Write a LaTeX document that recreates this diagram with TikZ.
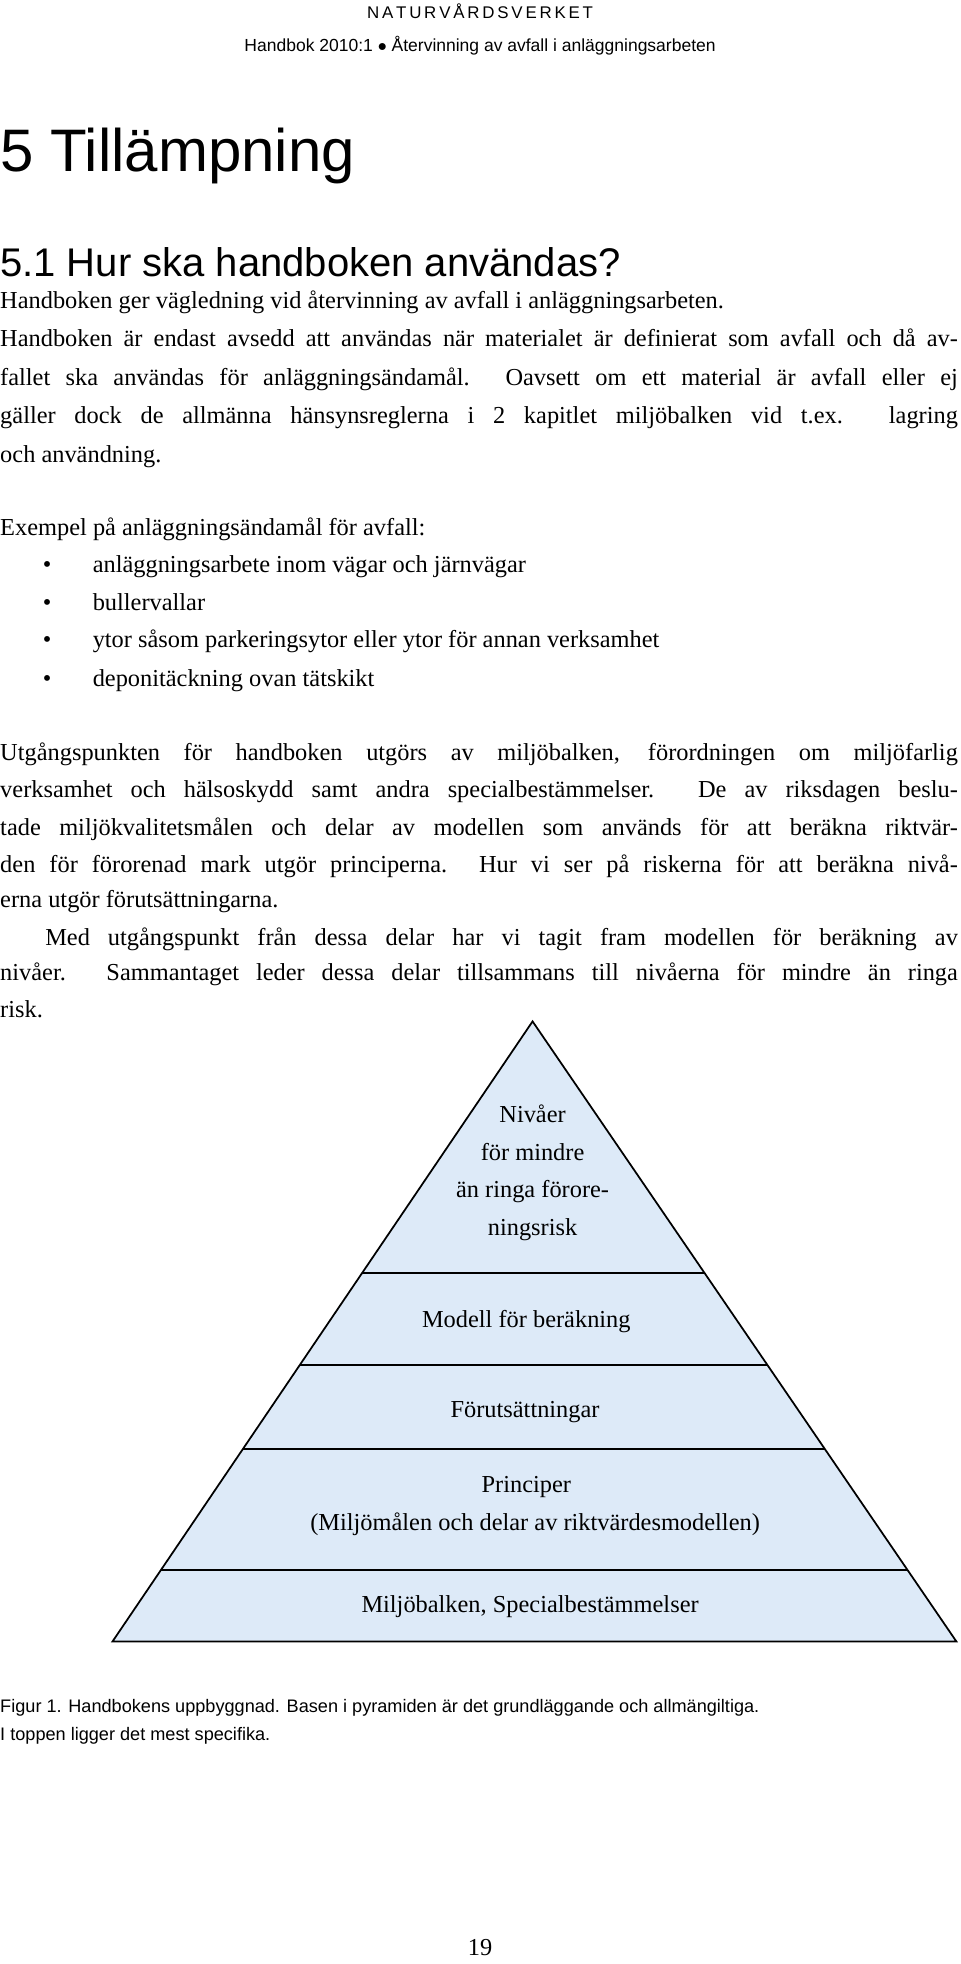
\documentclass[tikz,border=0pt]{standalone}
\usepackage{fontspec}
\setmainfont{Liberation Serif}
\newfontfamily\hsans{Liberation Sans}
\definecolor{pyr}{HTML}{DDEAF8}
\newcommand{\jl}[1]{\makebox[766pt][s]{#1}}
\begin{document}
\begin{tikzpicture}[x=1pt,y=-1pt,
  body/.style={anchor=base west,inner sep=0pt,font=\fontsize{19.5}{23}\selectfont},
  pt/.style={anchor=base,inner sep=0pt,font=\fontsize{19.5}{23}\selectfont},
  captext/.style={anchor=base west,inner sep=0pt,font=\hsans\fontsize{14.5}{17}\selectfont},
  lay/.style={fill=pyr,draw=black,line width=1.4pt,line join=miter}]
\useasboundingbox (0,0) rectangle (768,1571);
\node[anchor=base,inner sep=0pt,font=\hsans\fontsize{13.5}{16}\selectfont] (h1) at (384,15) {N\,A\,T\,U\,R\,V\,Å\,R\,D\,S\,V\,E\,R\,K\,E\,T};
\node[anchor=base,inner sep=0pt,font=\hsans\fontsize{14}{16}\selectfont] (h2) at (384,41) {Handbok 2010:1 $\bullet$ Återvinning av avfall i anläggningsarbeten};
\node[anchor=base west,inner sep=0pt,font=\hsans\fontsize{48}{50}\selectfont] (t1) at (0,137) {5 Tillämpning};
\node[anchor=base west,inner sep=0pt,font=\hsans\fontsize{32}{34}\selectfont] (t2) at (0,221) {5.1 Hur ska handboken användas?};
\node[body] (p1) at (0,247) {Handboken ger vägledning vid återvinning av avfall i anläggningsarbeten.};
\node[body] (p2) at (0,277) {\jl{Handboken är endast avsedd att användas när materialet är definierat som avfall och då av-}};
\node[body] (p3) at (0,308) {\jl{fallet ska användas för anläggningsändamål. Oavsett om ett material är avfall eller ej}};
\node[body] (p4) at (0,339) {\jl{gäller dock de allmänna hänsynsreglerna i 2 kapitlet miljöbalken vid t.ex. lagring}};
\node[body] (p5) at (0,370) {och användning.};
\node[body] (e0) at (0,428) {Exempel på anläggningsändamål för avfall:};
\foreach \y/\t in {458/anläggningsarbete inom vägar och järnvägar,488/bullervallar,518/ytor såsom parkeringsytor eller ytor för annan verksamhet,549/deponitäckning ovan tätskikt}{
  \node[body] at (34,\y) {\textbullet};
  \node[body] at (74,\y) {\t};
}
\node[body] (q1) at (0,608) {\jl{Utgångspunkten för handboken utgörs av miljöbalken, förordningen om miljöfarlig}};
\node[body] (q2) at (0,638) {\jl{verksamhet och hälsoskydd samt andra specialbestämmelser. De av riksdagen beslu-}};
\node[body] (q3) at (0,668) {\jl{tade miljökvalitetsmålen och delar av modellen som används för att beräkna riktvär-}};
\node[body] (q4) at (0,698) {\jl{den för förorenad mark utgör principerna. Hur vi ser på riskerna för att beräkna nivå-}};
\node[body] (q5) at (0,726) {erna utgör förutsättningarna.};
\node[body] (r1) at (36,756) {\makebox[730pt][s]{Med utgångspunkt från dessa delar har vi tagit fram modellen för beräkning av}};
\node[body] (r2) at (0,784) {\jl{nivåer. Sammantaget leder dessa delar tillsammans till nivåerna för mindre än ringa}};
\node[body] (r3) at (0,814) {risk.};
% pyramid
\coordinate (A) at (426,817);
\coordinate (BL) at (90,1313);
\coordinate (BR) at (765,1313);
\path[lay] (A) -- (BL) -- (BR) -- cycle;
\foreach \y in {1018,1092,1159,1256}{
  \draw[line width=1.4pt] ({426-(\y-817)/496*336},\y) -- ({426+(\y-817)/496*339},\y);
}
\node[pt] (n1) at (426,898) {Nivåer};
\node[pt] (n2) at (426,928) {för mindre};
\node[pt] (n3) at (426,958) {än ringa förore-};
\node[pt] (n4) at (426,988) {ningsrisk};
\node[pt] (m) at (421,1062) {Modell för beräkning};
\node[pt] (f) at (420,1134) {Förutsättningar};
\node[pt] (pr1) at (421,1194) {Principer};
\node[pt] (pr2) at (428,1224) {(Miljömålen och delar av riktvärdesmodellen)};
\node[pt] (mb) at (424,1290) {Miljöbalken, Specialbestämmelser};
\node[captext] (c1) at (0,1370) {Figur 1. Handbokens uppbyggnad. Basen i pyramiden är det grundläggande och allmängiltiga.};
\node[captext] (c2) at (0,1392) {I toppen ligger det mest specifika.};
\node[pt] (pg) at (384,1564) {19};
\end{tikzpicture}
\end{document}
